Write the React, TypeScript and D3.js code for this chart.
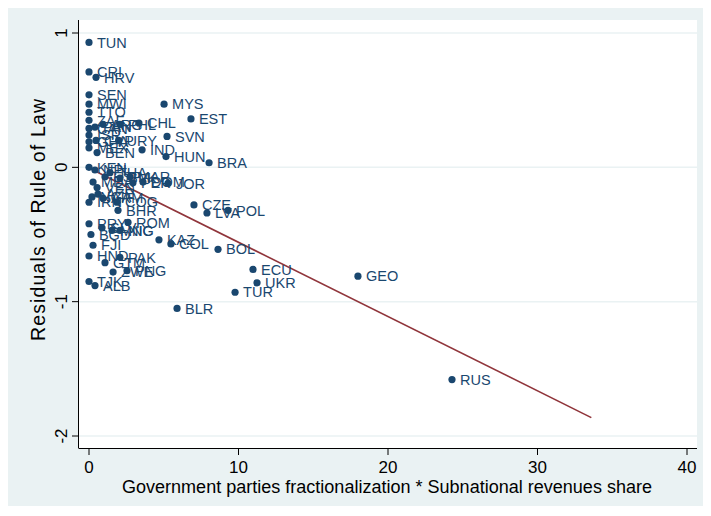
import React from "react";
import * as d3 from "d3";

// country codes, x = fractionalization * subnational revenues share, y = residual rule of law
const countries = [
  "TUN", "CRI", "HRV", "SEN", "MWI", "MYS", "TTO", "EST", "ZAF", "ARG",
  "PAN", "PHL", "CHL", "CAN", "ISR", "SVN", "GHA", "CYP", "URY", "IND",
  "MEX", "BEN", "HUN", "BRA", "KEN", "NPL", "ESP", "THA", "SVK", "MAR",
  "PER", "DOM", "JOR", "MDA", "VEN", "NGA", "AZE", "ARM", "IRN", "COG",
  "BHR", "CZE", "LVA", "POL", "PRY", "SLV", "MNG", "NIC", "ROM", "BGD",
  "FJI", "KAZ", "COL", "BOL", "HND", "PAK", "GTM", "ECU", "ZWE", "PNG",
  "GEO", "TJK", "ALB", "UKR", "TUR", "BLR", "RUS",
];
const xValues = [
  0.0, 0.0, 0.47, 0.0, 0.0, 5.02, 0.0, 6.82, 0.0, 0.94,
  0.4, 2.07, 3.34, 0.0, 0.0, 5.22, 0.0, 0.47, 1.98, 3.55,
  0.0, 0.54, 5.15, 8.03, 0.0, 0.4, 1.07, 1.4, 2.07, 2.74,
  2.94, 3.61, 5.28, 0.27, 0.54, 0.2, 0.6, 0.94, 0.0, 1.87,
  1.94, 7.02, 7.89, 9.3, 0.0, 0.87, 1.54, 2.07, 2.61, 0.13,
  0.27, 4.68, 5.48, 8.63, 0.0, 2.07, 1.07, 10.97, 1.61, 2.54,
  17.99, 0.0, 0.4, 11.24, 9.77, 5.89, 24.28,
];
const yValues = [
  0.93, 0.71, 0.67, 0.54, 0.47, 0.47, 0.41, 0.36, 0.35, 0.32,
  0.3, 0.32, 0.33, 0.29, 0.24, 0.23, 0.19, 0.2, 0.2, 0.13,
  0.145, 0.11, 0.08, 0.034, 0.0, -0.02, -0.07, -0.04, -0.08, -0.07,
  -0.115, -0.11, -0.12, -0.11, -0.15, -0.22, -0.2, -0.23, -0.26, -0.26,
  -0.32, -0.28, -0.34, -0.32, -0.42, -0.45, -0.47, -0.47, -0.41, -0.5,
  -0.58, -0.54, -0.57, -0.61, -0.66, -0.67, -0.71, -0.76, -0.78, -0.77,
  -0.81, -0.85, -0.88, -0.86, -0.93, -1.05, -1.58,
];

// linear fit drawn over this x range
const fitIntercept = -0.005;
const fitSlope = -0.0553;
const fitRange = [0, 33.6];

const xTicks = [0, 10, 20, 30, 40];
const yTicks = [1, 0, -1, -2];

const W = 711;
const H = 516;
const plot = { left: 79, right: 697, top: 20, bottom: 448 };
const font = "'Liberation Sans', Arial, sans-serif";
const navy = "#1a476f";
const maroon = "#90353b";
const bg = "#eaf2f3";

export default function App() {
  const x = d3.scaleLinear().domain([0, 40]).range([89, 687]);
  const y = d3.scaleLinear().domain([-2, 1]).range([436, 33]);

  const fitLine = d3
    .line<number>()
    .x((d) => x(d))
    .y((d) => y(fitIntercept + fitSlope * d));

  return (
    <svg
      width={W}
      height={H}
      style={{ position: "absolute", left: 0, top: 0 }}
      fontFamily={font}
    >
      <rect x={0} y={0} width={W} height={H} fill="#ffffff" />
      <rect x={8} y={8} width={W - 16} height={H - 18} fill={bg} />
      <rect
        x={plot.left}
        y={plot.top}
        width={plot.right - plot.left}
        height={plot.bottom - plot.top}
        fill="#ffffff"
      />

      {/* grid */}
      {yTicks.map((t) => (
        <line
          key={"g" + t}
          x1={plot.left}
          x2={plot.right}
          y1={y(t)}
          y2={y(t)}
          stroke={bg}
          strokeWidth={1.5}
        />
      ))}

      {/* fit line */}
      <path d={fitLine(fitRange) || ""} fill="none" stroke={maroon} strokeWidth={1.6} />

      {/* points */}
      {countries.map((c, i) => (
        <g key={c}>
          <circle cx={x(xValues[i])} cy={y(yValues[i])} r={3.6} fill={navy} />
          <text
            x={x(xValues[i]) + 8}
            y={y(yValues[i])}
            dy="0.36em"
            fontSize={14.5}
            fill={navy}
          >
            {c}
          </text>
        </g>
      ))}

      {/* axes */}
      <line x1={plot.left - 0.5} x2={plot.left - 0.5} y1={plot.top} y2={plot.bottom} stroke="#000" />
      <line x1={plot.left - 0.5} x2={plot.right} y1={plot.bottom + 0.5} y2={plot.bottom + 0.5} stroke="#000" />

      {yTicks.map((t) => (
        <g key={"y" + t}>
          <line x1={plot.left - 7} x2={plot.left} y1={y(t)} y2={y(t)} stroke="#000" />
          <text
            transform={`translate(${plot.left - 12},${y(t)}) rotate(-90)`}
            textAnchor="middle"
            fontSize={17}
            fill="#000"
          >
            {t}
          </text>
        </g>
      ))}

      {xTicks.map((t) => (
        <g key={"x" + t}>
          <line x1={x(t)} x2={x(t)} y1={plot.bottom} y2={plot.bottom + 7} stroke="#000" />
          <text x={x(t)} y={plot.bottom + 25} textAnchor="middle" fontSize={17} fill="#000">
            {t}
          </text>
        </g>
      ))}

      <text
        x={387}
        y={plot.bottom + 45}
        textAnchor="middle"
        fontSize={17.5}
        textLength={530}
        lengthAdjust="spacingAndGlyphs"
        fill="#000"
      >
        Government parties fractionalization * Subnational revenues share
      </text>
      <text
        transform="translate(45,220) rotate(-90)"
        textAnchor="middle"
        fontSize={19.5}
        textLength={242}
        lengthAdjust="spacing"
        fill="#000"
      >
        Residuals of Rule of Law
      </text>
    </svg>
  );
}
